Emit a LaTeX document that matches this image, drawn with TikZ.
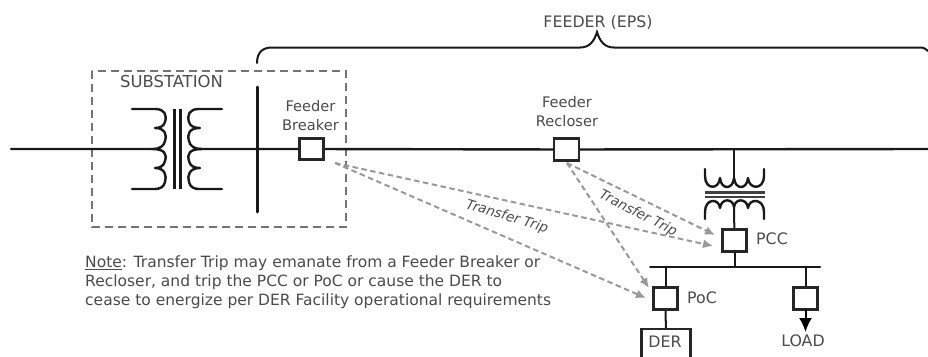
\documentclass[tikz,border=0pt]{standalone}
\usepackage{fontspec}
\setmainfont{DejaVu Sans}
\usetikzlibrary{arrows.meta}
\definecolor{txt}{HTML}{4A4A4A}
\definecolor{dashc}{HTML}{999999}
\tikzset{
  wire/.style={draw=black!90,line width=2pt,line cap=round},
  swbox/.style={draw=black!85,line width=2.6pt,fill=white,minimum width=24pt,minimum height=21.5pt,inner sep=0pt,outer sep=0pt},
  lab/.style={text=txt,font=\fontsize{15.8}{19}\selectfont,inner sep=0pt,align=center},
  sublab/.style={text=txt,font=\fontsize{14.6}{18.5}\selectfont,inner sep=0pt,align=center},
  trip/.style={draw=dashc,line width=2pt,dash pattern=on 5.5pt off 3.5pt,-{Latex[length=10pt,width=9pt]}},
  triptext/.style={text=txt,font=\fontsize{13.6}{15}\selectfont\itshape,inner sep=0pt},
  subbox/.style={draw=black!55,line width=1.4pt,dash pattern=on 8pt off 5pt},
  coil/.style={draw=black!90,line width=2.4pt,line cap=round,line join=round}
}
\begin{document}
\begin{tikzpicture}[x=1pt,y=-1pt]
\useasboundingbox (0,0) rectangle (928,356);
\coordinate (mainL) at (11,149);
\coordinate (mainR) at (928,149);
\node[swbox] (brk) at (311.5,149) {};
\node[swbox,minimum width=25pt] (rec) at (566.5,149.5) {};
\node[swbox] (pcc) at (734.5,240.5) {};
\node[swbox] (poc) at (665.5,298.5) {};
\node[swbox] (lod) at (805.5,298.5) {};
\node[draw=black!85,line width=2.6pt,fill=white,minimum width=49pt,minimum height=32pt,inner sep=0pt] (der) at (666,345) {};
\node[lab] (tder) at (665,342) {DER};
\node[lab] (tload) at (803,341) {LOAD};
\node[lab] (tpcc) at (772,238.5) {PCC};
\node[lab] (tpoc) at (702,297.5) {PoC};
\node[lab,font=\fontsize{16.4}{19}\selectfont] (tsub) at (171.5,82) {SUBSTATION};
\node[sublab] (tbrk) at (310.5,115.5) {Feeder\\Breaker};
\node[sublab] (trec) at (567,111.5) {Feeder\\Recloser};
\node[lab] (tfeed) at (598,23) {FEEDER (EPS)};
% substation box
\draw[subbox] (92,71) rectangle (346,227);
% buses and main line
\draw[wire,line width=2.4pt] (mainL) -- (brk) (brk) -- (rec) (rec) -- (mainR);
\node[swbox] at (brk) {};
\node[swbox,minimum width=25pt] at (rec) {};
\coordinate (busT) at (257,87);
\coordinate (busB) at (257,212);
\draw[wire,line width=3pt] (busT) -- (busB);
% substation transformer
\fill[white] (152,112) rectangle (197,186);
\draw[coil] (132,109) -- (155,109) .. controls (165,109) and (167,115) .. (165,122)
  .. controls (164,126) and (160,128) .. (155,128)
  .. controls (165,128) and (167,134) .. (165,141)
  .. controls (164,146) and (160,149) .. (152,149)
  .. controls (165,149) and (167,154) .. (165,161)
  .. controls (164,166) and (160,168) .. (155,168)
  .. controls (165,168) and (167,176) .. (165,182)
  .. controls (164,187) and (160,189) .. (155,189) -- (132,189);
\draw[coil] (222,109) -- (199,109) .. controls (189,109) and (187,115) .. (189,122)
  .. controls (190,126) and (194,128) .. (200,128)
  .. controls (189,128) and (187,134) .. (189,141)
  .. controls (190,146) and (194,149) .. (202,149)
  .. controls (189,149) and (187,154) .. (189,161)
  .. controls (190,166) and (194,168) .. (200,168)
  .. controls (189,168) and (187,176) .. (189,182)
  .. controls (190,187) and (194,189) .. (199,189) -- (222,189);
\draw[draw=black!90,line width=3pt] (174.5,109) -- (174.5,189) (180,109) -- (180,189);
% feeder brace
\draw[wire,line width=2pt] (busT |- 0,63) .. controls (257,52) and (263,47.5) .. (272,47.5)
  -- (580,47.5) .. controls (589,47.5) and (594,42) .. (597,32)
  .. controls (600,42) and (605,47.5) .. (614,47.5) -- (920,47.5)
  .. controls (924,47.5) and (926,49) .. (928,51);
% distribution transformer
\coordinate (tapT) at (734,149);
\coordinate (tapC) at (734,178);
\coordinate (tapS) at (734,207);
\draw[wire] (tapT) -- (tapC);
\draw[coil] (705,169) -- (705,176) .. controls (705,190) and (719,190) .. (720,178)
  .. controls (721,190) and (733,190) .. (734,178)
  .. controls (735,190) and (747,190) .. (748,178)
  .. controls (749,190) and (764,190) .. (764,176) -- (764,169);
\draw[draw=black!75,line width=2.4pt] (705,192.5) -- (765,192.5) (705,197) -- (765,197);
\draw[coil] (705,219) -- (705,212) .. controls (705,198) and (719,198) .. (720,208)
  .. controls (721,198) and (733,198) .. (734,207)
  .. controls (735,198) and (747,198) .. (748,208)
  .. controls (749,198) and (764,198) .. (764,212) -- (764,219);
\draw[wire] (tapS) -- (pcc);
% low voltage side
\coordinate (lvL) at (650,266.5);
\coordinate (lvR) at (820,266.5);
\coordinate (lvP) at (734.5,266.5);
\coordinate (lvO) at (665.5,266.5);
\coordinate (lvD) at (805.5,266.5);
\draw[wire] (lvL) -- (lvR);
\draw[wire] (pcc) -- (lvP);
\draw[wire] (lvO) -- (poc);
\draw[wire] (lvD) -- (lod);
\draw[wire] (poc) -- (der);
\node[swbox] at (pcc) {};
\node[swbox] at (poc) {};
\node[swbox] at (lod) {};
\coordinate (loadTip) at (805.5,332);
\draw[wire,-{Latex[length=14pt,width=13pt]},black] (lod) -- (loadTip);
% transfer trip
\coordinate (brkS) at (335,163);
\coordinate (recS) at (567,163);
\coordinate (pccA) at (715,235);
\coordinate (pccB) at (713,246);
\coordinate (pocA) at (649,288);
\coordinate (pocB) at (646,298);
\draw[trip] (brkS) -- (pccB);
\draw[trip] (brkS) -- (pocB);
\draw[trip] (recS) -- (pccA);
\draw[trip] (recS) -- (pocA);
\node[triptext,rotate=-17] (tt1) at (507,217) {Transfer Trip};
\node[triptext,rotate=-27] (tt2) at (638,213.5) {Transfer Trip};
% note
\node[text=txt,font=\fontsize{15.5}{19}\selectfont,inner sep=0pt,anchor=north west,align=left] (note) at (85,256)
 {\underline{Note}: Transfer Trip may emanate from a Feeder Breaker or\\Recloser, and trip the PCC or PoC or cause the DER to\\cease to energize per DER Facility operational requirements};
\end{tikzpicture}
\end{document}
